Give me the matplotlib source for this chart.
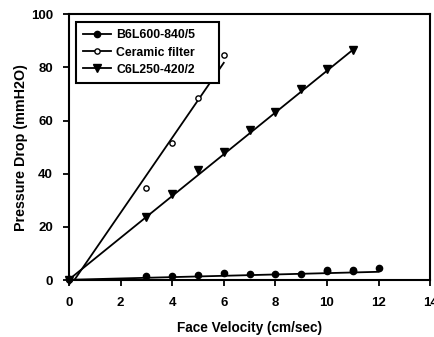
import numpy as np
import matplotlib
matplotlib.use('Agg')
import matplotlib.pyplot as plt
from matplotlib.lines import Line2D

plt.rcParams['font.family'] = ['Liberation Sans', 'DejaVu Sans']
plt.rcParams['font.weight'] = 'bold'

# data
b6_x = [0, 3, 4, 5, 6, 7, 8, 9, 10, 10, 11, 11, 12]
b6_y = [0.3, 1.4, 1.5, 1.9, 2.5, 2.3, 2.3, 2.3, 3.4, 3.9, 3.4, 3.8, 4.4]
cer_x = [0, 3, 4, 5, 6]
cer_y = [0.0, 34.6, 51.6, 68.5, 84.8]
c6_x = [0, 3, 4, 5, 6, 7, 8, 9, 10, 11]
c6_y = [0.0, 23.6, 32.3, 41.4, 48.2, 56.4, 63.3, 71.7, 79.2, 86.5]

# fitted lines (slope, intercept)
b6_fit = (0.25, 0.1)
cer_fit = (14.1, -2.9)
c6_fit = (7.85, 0.2)

labels = ['B6L600-840/5', 'Ceramic filter', 'C6L250-420/2']

fig = plt.figure(figsize=(4.34, 3.37), dpi=100)
ax = fig.add_axes([0.159, 0.169, 0.832, 0.789])

# fitted lines
for xs, fit in [(b6_x, b6_fit), (cer_x, cer_fit), (c6_x, c6_fit)]:
    xx = np.array([min(xs), max(xs)], dtype=float)
    ax.plot(xx, fit[0] * xx + fit[1], color='black', lw=1.3)

# markers
ax.plot(b6_x, b6_y, 'o', color='black', ms=4.5, clip_on=False, zorder=3)
ax.plot(cer_x, cer_y, 'o', mfc='white', mec='black', mew=1.0, ms=3.8, clip_on=False, zorder=3)
ax.plot(c6_x, c6_y, 'v', color='black', ms=6, clip_on=False, zorder=3)

ax.set_xlim(0, 14)
ax.set_ylim(0, 100)
ax.set_xticks(np.arange(0, 15, 2))
ax.set_yticks(np.arange(0, 101, 20))
ax.tick_params(axis='both', direction='out', length=4.5, width=1.3, labelsize=9.5)
ax.tick_params(axis='y', pad=7)
ax.tick_params(axis='x', pad=8)
for s in ax.spines.values():
    s.set_linewidth(1.5)

ax.set_xlabel('Face Velocity (cm/sec)', fontsize=9.8, fontweight='bold', labelpad=8)
ax.set_ylabel('Pressure Drop (mmH2O)', fontsize=10.3, fontweight='bold', labelpad=2)

handles = [
    Line2D([], [], color='black', lw=1.3, marker='o', ms=4.5),
    Line2D([], [], color='black', lw=1.3, marker='o', ms=3.8, mfc='white', mew=1.0),
    Line2D([], [], color='black', lw=1.3, marker='v', ms=6),
]
leg = ax.legend(handles, labels, loc='upper left', bbox_to_anchor=(0.019, 0.0, 0.396, 0.970),
                mode='expand',
                prop={'weight': 'bold', 'size': 8.8}, fancybox=False,
                edgecolor='black', framealpha=1, handlelength=2.3,
                borderpad=0.6, labelspacing=0.42, handletextpad=0.4,
                borderaxespad=0)
leg.get_frame().set_linewidth(1.5)

fig.savefig('out.png', dpi=100)
